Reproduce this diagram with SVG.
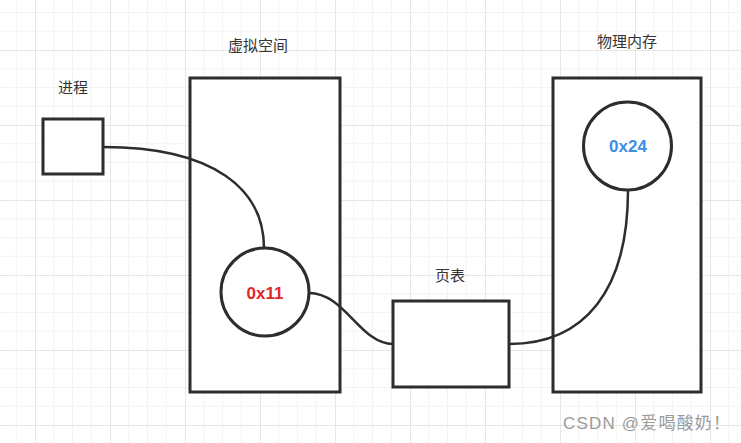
<svg xmlns="http://www.w3.org/2000/svg" width="741" height="443" viewBox="0 0 741 443">
  <defs>
    <pattern id="grid" x="35" y="50" width="75" height="75" patternUnits="userSpaceOnUse">
      <path d="M18.75 0V75M37.5 0V75M56.25 0V75M0 18.75H75M0 37.5H75M0 56.25H75" stroke="#f3f3f3" stroke-width="1" fill="none"/>
      <path d="M0.5 0V75M0 0.5H75" stroke="#e6e6e6" stroke-width="1" fill="none"/>
    </pattern>
    <style>
      .shape { fill: #ffffff; stroke: #2b2d31; stroke-width: 3; }
      .edge { fill: none; stroke: #2b2d31; stroke-width: 2.5; }
      .label { font-family: "Noto Sans CJK SC", "Noto Sans", sans-serif; font-size: 15px; fill: #333333; text-anchor: middle; dominant-baseline: central; }
      .addr { font-family: "Liberation Sans", Arial, sans-serif; font-size: 17px; font-weight: bold; text-anchor: middle; dominant-baseline: central; }
    </style>
  </defs>
  <rect width="741" height="443" fill="#ffffff"/>
  <rect width="741" height="443" fill="url(#grid)"/>

  <g id="process">
    <rect class="shape" x="43" y="119" width="60" height="55"/>
    <text class="label" x="73" y="86">进程</text>
  </g>
  <g id="virtual-space">
    <rect class="shape" x="190" y="78" width="150" height="314"/>
    <text class="label" x="258" y="44">虚拟空间</text>
  </g>
  <g id="physical-memory">
    <rect class="shape" x="553" y="78" width="148" height="314"/>
    <text class="label" x="627" y="40">物理内存</text>
  </g>
  <g id="page-table">
    <rect class="shape" x="393" y="301" width="116" height="86"/>
    <text class="label" x="450" y="274">页表</text>
  </g>

  <g id="connectors">
    <path class="edge" d="M103 147 C 215 147 264 190 264 248"/>
    <path class="edge" d="M309 293 C 345 293 360 344 393 344"/>
    <path class="edge" d="M509 344 C 585 344 628 290 628 190"/>
  </g>

  <g id="addr-0x11">
    <circle class="shape" cx="265" cy="292" r="44" stroke-width="2.5"/>
    <text class="addr" x="265" y="293" fill="#e3262c">0x11</text>
  </g>
  <g id="addr-0x24">
    <circle class="shape" cx="627.5" cy="146" r="44" stroke-width="2.5"/>
    <text class="addr" x="628" y="146" fill="#3b8fe6">0x24</text>
  </g>

  <text x="563" y="423" font-family="Liberation Sans, 'Noto Sans CJK SC', sans-serif" font-size="17" fill="#9a9a9a" dominant-baseline="central" textLength="167">CSDN @爱喝酸奶！</text>
</svg>
